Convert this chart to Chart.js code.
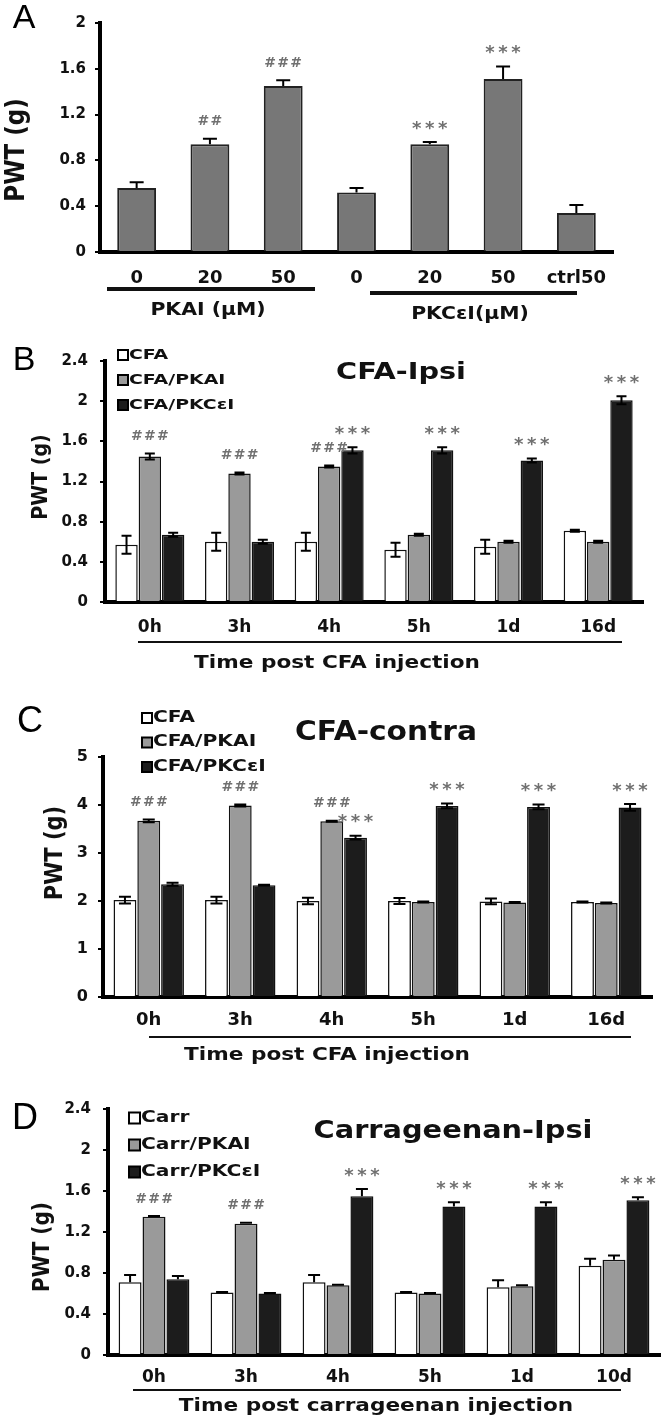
<!DOCTYPE html>
<html>
<head>
<meta charset="utf-8">
<script src="https://cdn.jsdelivr.net/npm/chart.js@4.4.0/dist/chart.umd.min.js"></script>
<style>
html, body { margin: 0; padding: 0; background: #fff; }
body { width: 666px; height: 1421px; position: relative; overflow: hidden; }
canvas { position: absolute; left: 0; }
</style>
</head>
<body>
<canvas id="chartA" width="666" height="340" style="top:0px"></canvas>
<canvas id="chartB" width="666" height="350" style="top:340px"></canvas>
<canvas id="chartC" width="666" height="390" style="top:690px"></canvas>
<canvas id="chartD" width="666" height="341" style="top:1080px"></canvas>
<script>
// ---- panel A ----
var catsA = ["0", "20", "50", "0", "20", "50", "ctrl50"];
var valsA = [0.56, 0.94, 1.45, 0.52, 0.94, 1.51, 0.34];
var errA = [0.05, 0.05, 0.05, 0.04, 0.02, 0.11, 0.07];
var marksA = ["", "##", "###", "", "***", "***", ""];
var ticksA = [0, 0.4, 0.8, 1.2, 1.6, 2];

// ---- panel B (CFA ipsi) ----
var timesB = ["0h", "3h", "4h", "5h", "1d", "16d"];
var cfaB = [0.57, 0.60, 0.60, 0.52, 0.55, 0.71];
var cfaErrB = [0.09, 0.09, 0.09, 0.07, 0.07, 0.01];
var pkaB = [1.45, 1.28, 1.35, 0.67, 0.60, 0.60];
var pkaErrB = [0.03, 0.01, 0.01, 0.01, 0.01, 0.01];
var pkcB = [0.67, 0.60, 1.51, 1.51, 1.41, 2.01];
var pkcErrB = [0.02, 0.02, 0.03, 0.03, 0.02, 0.04];
var ticksB = [0, 0.4, 0.8, 1.2, 1.6, 2, 2.4];

// ---- panel C (CFA contra) ----
var timesC = ["0h", "3h", "4h", "5h", "1d", "16d"];
var cfaC = [2.02, 2.02, 2.00, 2.00, 1.99, 1.98];
var cfaErrC = [0.07, 0.07, 0.07, 0.06, 0.06, 0.01];
var pkaC = [3.67, 3.99, 3.66, 1.98, 1.97, 1.96];
var pkaErrC = [0.03, 0.02, 0.01, 0.01, 0.01, 0.01];
var pkcC = [2.35, 2.33, 3.32, 3.98, 3.96, 3.95];
var pkcErrC = [0.03, 0.01, 0.04, 0.05, 0.05, 0.07];
var ticksC = [0, 1, 2, 3, 4, 5];

// ---- panel D (carrageenan ipsi) ----
var timesD = ["0h", "3h", "4h", "5h", "1d", "10d"];
var carrD = [0.71, 0.61, 0.71, 0.61, 0.66, 0.87];
var carrErrD = [0.07, 0.005, 0.07, 0.005, 0.07, 0.07];
var pkaD = [1.35, 1.28, 0.68, 0.60, 0.67, 0.93];
var pkaErrD = [0.005, 0.01, 0.005, 0.005, 0.01, 0.04];
var pkcD = [0.74, 0.60, 1.55, 1.45, 1.45, 1.51];
var pkcErrD = [0.03, 0.005, 0.07, 0.04, 0.04, 0.03];
var ticksD = [0, 0.4, 0.8, 1.2, 1.6, 2, 2.4];

var marksGray = ["###", "###", "###", "", "", ""];
var marksGrayD = ["###", "###", "", "", "", ""];
var marksBlack = ["", "", "***", "***", "***", "***"];

var FONT = "'DejaVu Sans', Verdana, sans-serif";
var WHITE = "#ffffff", GRAY = "#9a9a9a", BLACK = "#1c1c1c";

// the original figure is stretched sideways, so most text gets an x scale
function text(ctx, s, x, y, size, opt) {
	opt = opt || {};
	ctx.save();
	ctx.font = (opt.weight || "bold") + " " + size + "px " + (opt.family || FONT);
	ctx.fillStyle = opt.color || "#111";
	ctx.textAlign = opt.align || "center";
	ctx.textBaseline = "middle";
	ctx.translate(x, y);
	if (opt.sx) ctx.scale(opt.sx, 1);
	if (opt.rotate) ctx.rotate(opt.rotate);
	ctx.fillText(s, 0, 0);
	ctx.restore();
}

function drawMark(ctx, s, x, y) {
	var pitch = 13;
	var x0 = x - (s.length - 1) * pitch / 2;
	for (var k = 0; k < s.length; k++) {
		var c = s[k];
		if (c == "*") text(ctx, c, x0 + k * pitch, y + 4, 18, {color: "#707070"});
		else text(ctx, c, x0 + k * pitch, y, 14, {color: "#707070"});
	}
}

var extras = {
	id: "extras",
	afterDatasetsDraw: function(chart, args, o) {
		var ctx = chart.ctx, ys = chart.scales.y;
		ctx.save();
		ctx.strokeStyle = "#000";
		ctx.lineWidth = 2;
		chart.data.datasets.forEach(function(ds, i) {
			chart.getDatasetMeta(i).data.forEach(function(bar, j) {
				var v = ds.data[j], e = ds.err[j];
				var top = ys.getPixelForValue(v + e);
				var bot = ys.getPixelForValue(o.both ? v - e : v);
				var w = o.cap;
				ctx.beginPath();
				ctx.moveTo(bar.x, top); ctx.lineTo(bar.x, bot);
				ctx.moveTo(bar.x - w, top); ctx.lineTo(bar.x + w, top);
				if (o.both) { ctx.moveTo(bar.x - w, bot); ctx.lineTo(bar.x + w, bot); }
				ctx.stroke();
				if (ds.marks && ds.marks[j]) drawMark(ctx, ds.marks[j], bar.x, top - 17);
			});
		});
		ctx.restore();
	},
	afterDraw: function(chart, args, o) {
		var ctx = chart.ctx;
		text(ctx, o.letter[0], o.letter[1], o.letter[2], o.letter[3],
			{weight: "normal", family: "'Liberation Sans Narrow', 'Liberation Sans', sans-serif", color: "#000"});
		text(ctx, "PWT (g)", o.ytitle[0], o.ytitle[1], o.ytitle[2], {rotate: -Math.PI / 2, sx: 1.15});
		if (o.title) text(ctx, o.title[0], o.title[1], o.title[2], o.title[3], {sx: o.title[4]});
		if (o.legend) {
			var lg = o.legend;
			chart.data.datasets.forEach(function(ds, i) {
				var cy = lg.y + i * lg.gap;
				ctx.fillStyle = ds.backgroundColor;
				ctx.fillRect(lg.x, cy - lg.s / 2, lg.s, lg.s);
				ctx.strokeStyle = "#000";
				ctx.lineWidth = 2;
				ctx.strokeRect(lg.x, cy - lg.s / 2, lg.s, lg.s);
				text(ctx, ds.label, lg.x + lg.s + 1, cy, lg.size, {align: "left", sx: 1.35});
			});
		}
		(o.lines || []).forEach(function(l) {
			ctx.fillStyle = "#111";
			ctx.fillRect(l[0], l[2] - l[3] / 2, l[1] - l[0], l[3]);
		});
		(o.texts || []).forEach(function(t) {
			text(ctx, t[0], t[1], t[2], t[3], {sx: 1.2});
		});
	}
};

function makeChart(id, cats, datasets, ticks, area, h, xSize, ySize, yPad, xPad, plug) {
	return new Chart(document.getElementById(id), {
		type: "bar",
		data: { labels: cats, datasets: datasets },
		options: {
			responsive: false,
			animation: false,
			devicePixelRatio: 1,
			layout: { padding: { top: area.top, right: 666 - area.right, left: 0, bottom: 0 } },
			plugins: { legend: { display: false }, tooltip: { enabled: false }, extras: plug },
			scales: {
				x: {
					grid: { display: false, tickLength: 0 },
					border: { display: true, color: "#000", width: 4 },
					ticks: { color: "#111", padding: xPad, font: { family: FONT, weight: "bold", size: xSize } },
					afterFit: function(s) { s.height = h - area.bottom; }
				},
				y: {
					min: ticks[0],
					max: ticks[ticks.length - 1],
					afterBuildTicks: function(s) { s.ticks = ticks.map(function(v) { return {value: v}; }); },
					grid: { display: true, drawOnChartArea: false, drawTicks: true, tickLength: 5, color: "#000", lineWidth: 2 },
					border: { display: true, color: "#000", width: 4 },
					ticks: {
						color: "#111", padding: yPad,
						font: { family: FONT, weight: "bold", size: ySize },
						callback: function(v) { return String(+v.toFixed(1)); }
					},
					afterFit: function(s) { s.width = area.left; }
				}
			}
		},
		plugins: [extras]
	});
}

function bars(label, data, err, color, marks) {
	return {
		label: label, data: data, err: err, marks: marks,
		backgroundColor: color, borderColor: "#111", borderWidth: 1.5,
		categoryPercentage: 0.78, barPercentage: 0.96
	};
}

// A
makeChart("chartA", catsA, [{
	label: "PWT", data: valsA, err: errA, marks: marksA,
	backgroundColor: "#777777", borderColor: "#222", borderWidth: 2,
	categoryPercentage: 0.53, barPercentage: 1
}], ticksA, {left: 100, top: 23, right: 613, bottom: 252}, 340, 18, 15, 9, 16, {
	cap: 7, both: false,
	letter: ["A", 24, 19, 34],
	ytitle: [17, 150, 23],
	lines: [[107, 315, 289, 4], [370, 577, 293, 4]],
	texts: [["PKAI (\u00b5M)", 208, 311, 17], ["PKC\u03b5I(\u00b5M)", 470, 315, 17]]
});

// B
makeChart("chartB", timesB, [
	bars("CFA", cfaB, cfaErrB, WHITE),
	bars("CFA/PKAI", pkaB, pkaErrB, GRAY, marksGray),
	bars("CFA/PKC\u03b5I", pkcB, pkcErrB, BLACK, marksBlack)
], ticksB, {left: 105, top: 15, right: 643, bottom: 262}, 350, 17, 15, 12, 15, {
	cap: 5, both: true,
	letter: ["B", 24, 21, 34],
	ytitle: [41, 137, 19],
	title: ["CFA-Ipsi", 401, 33, 23, 1.25],
	legend: {x: 118, y: 15, gap: 25, s: 10, size: 14},
	lines: [[138, 622, 302, 2]],
	texts: [["Time post CFA injection", 337, 323, 18]]
});

// C
makeChart("chartC", timesC, [
	bars("CFA", cfaC, cfaErrC, WHITE),
	bars("CFA/PKAI", pkaC, pkaErrC, GRAY, marksGray),
	bars("CFA/PKC\u03b5I", pkcC, pkcErrC, BLACK, marksBlack)
], ticksC, {left: 103, top: 67, right: 652, bottom: 307}, 390, 18, 16, 10, 13, {
	cap: 6, both: true,
	letter: ["C", 30, 32, 36],
	ytitle: [56, 163, 21],
	title: ["CFA-contra", 386, 43, 27, 1.1],
	legend: {x: 142, y: 28, gap: 24.5, s: 10, size: 15},
	lines: [[149, 631, 347, 2]],
	texts: [["Time post CFA injection", 327, 365, 18]]
});

// D
makeChart("chartD", timesD, [
	bars("Carr", carrD, carrErrD, WHITE),
	bars("Carr/PKAI", pkaD, pkaErrD, GRAY, marksGrayD),
	bars("Carr/PKC\u03b5I", pkcD, pkcErrD, BLACK, marksBlack)
], ticksD, {left: 108, top: 29, right: 660, bottom: 275}, 341, 17, 15, 12, 12, {
	cap: 6, both: false,
	letter: ["D", 25, 39, 36],
	ytitle: [43, 167, 20],
	title: ["Carrageenan-Ipsi", 453, 52, 24, 1.2],
	legend: {x: 129, y: 38, gap: 27, s: 11, size: 15},
	lines: [[133, 621, 310, 2]],
	texts: [["Time post carrageenan injection", 376, 326, 18]]
});
</script>
</body>
</html>
